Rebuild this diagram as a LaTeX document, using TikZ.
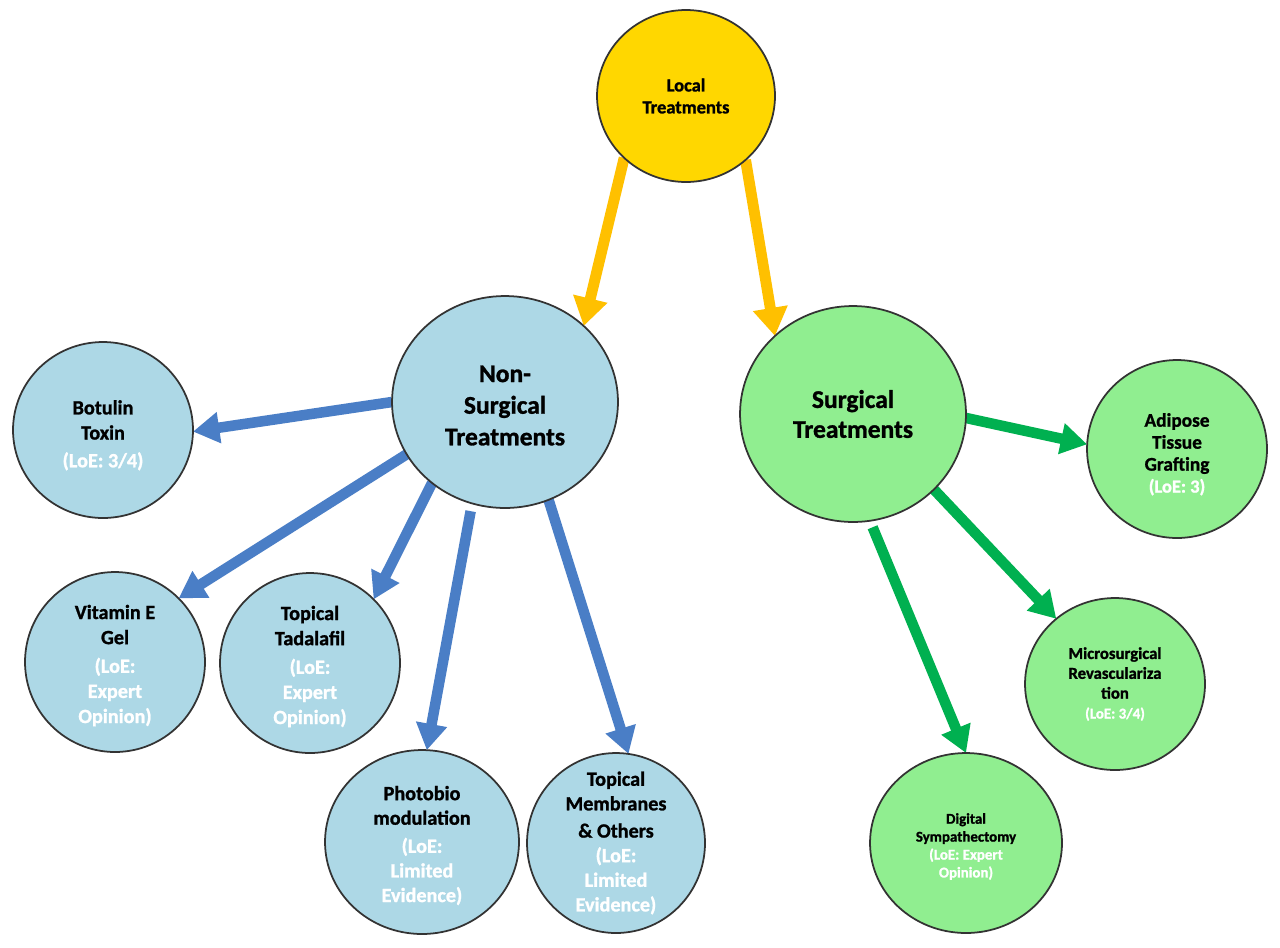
\documentclass[tikz,border=0pt]{standalone}
\usepackage{fontspec}
\setmainfont{Carlito}[BoldFeatures={FakeBold=1.2}]
\usetikzlibrary{shapes.geometric,arrows.meta}
\pgfdeclarelayer{background}
\pgfsetlayers{background,main}
\definecolor{gold}{HTML}{FFD700}
\definecolor{lblue}{HTML}{ADD8E6}
\definecolor{lgreen}{HTML}{90EE90}
\definecolor{ayel}{HTML}{FFC000}
\definecolor{ablue}{HTML}{4A7EC6}
\definecolor{agreen}{HTML}{00B050}
\definecolor{edgecol}{HTML}{333333}
\newcommand\loetxt[1]{\textcolor{white}{#1}}
\begin{document}
\begin{tikzpicture}[x=0.02cm,y=-0.02cm,
  bubble/.style={ellipse, draw=edgecol, line width=1pt, inner sep=0pt, outer sep=0pt},
  goldb/.style={bubble, fill=gold},
  blueb/.style={bubble, fill=lblue},
  greenb/.style={bubble, fill=lgreen},
  txt/.style={align=center, inner sep=0pt, text=black},
  fbig/.style={font=\bfseries\fontsize{14.5}{18}\selectfont},
  fmid/.style={font=\bfseries\fontsize{11.5}{14.3}\selectfont},
  yarrow/.style={draw=ayel, line width=6.2pt, -{Triangle[width=19pt,length=16pt]}},
  barrow/.style={draw=ablue, line width=6pt, -{Triangle[width=17pt,length=15pt]}},
  garrow/.style={draw=agreen, line width=6pt, -{Triangle[width=17pt,length=15pt]}}]

\path[use as bounding box] (0,0) rectangle (1280,947);

% circles
\node[goldb, minimum width=3.56cm, minimum height=3.44cm] (loc) at (686,96) {};
\node[blueb, minimum width=4.52cm, minimum height=4.24cm] (nst) at (505,402) {};
\node[greenb, minimum width=4.52cm, minimum height=4.32cm] (sur) at (853,414) {};
\node[blueb, minimum width=3.6cm, minimum height=3.52cm] (bot) at (103,430) {};
\node[blueb, minimum width=3.6cm, minimum height=3.6cm] (vit) at (115,662) {};
\node[blueb, minimum width=3.6cm, minimum height=3.6cm] (tad) at (310,663) {};
\node[blueb, minimum width=3.88cm, minimum height=3.68cm] (pho) at (422,842) {};
\node[blueb, minimum width=3.56cm, minimum height=3.6cm] (mem) at (616,843) {};
\node[greenb, minimum width=3.6cm, minimum height=3.56cm] (adi) at (1177,449) {};
\node[greenb, minimum width=3.6cm, minimum height=3.44cm] (mic) at (1115,684) {};
\node[greenb, minimum width=3.84cm, minimum height=3.6cm] (dig) at (966,843) {};

% texts
\node[txt, font=\bfseries\fontsize{10.5}{12.5}\selectfont] (loct) at (loc) {Local\\Treatments};
\node[txt, fbig] (nstt) at ([yshift=-2pt]nst.center) {Non-\\Surgical\\Treatments};
\node[txt, font=\bfseries\fontsize{14.5}{17}\selectfont] (surt) at (sur) {Surgical\\Treatments};
\node[txt, fmid] (bott) at ([yshift=-3pt]bot.center) {Botulin\\Toxin\\[1.5pt]\loetxt{(LoE: 3/4)}};
\node[txt, fmid] (vitt) at ([yshift=-2pt]vit.center) {Vitamin E\\Gel\\[2pt]\loetxt{(LoE:}\\\loetxt{Expert}\\\loetxt{Opinion)}};
\node[txt, fmid] (tadt) at ([yshift=-2pt]tad.center) {Topical\\Tadalafil\\[2pt]\loetxt{(LoE:}\\\loetxt{Expert}\\\loetxt{Opinion)}};
\node[txt, font=\bfseries\fontsize{11.5}{14}\selectfont] (phot) at ([yshift=-2pt]pho.center) {Photobio\\modulation\\[2pt]\loetxt{(LoE:}\\\loetxt{Limited}\\\loetxt{Evidence)}};
\node[txt, font=\bfseries\fontsize{11.5}{14}\selectfont] (memt) at (mem) {Topical\\Membranes\\[1.5pt]\&{} Others\\\loetxt{(LoE:}\\\loetxt{Limited}\\\loetxt{Evidence)}};
\node[txt, font=\bfseries\fontsize{11}{12.5}\selectfont] (adit) at ([yshift=-3pt]adi.center) {Adipose\\Tissue\\Grafting\\{\fontsize{10.5}{12}\selectfont\loetxt{(LoE: 3)}}};
\node[txt, font=\bfseries\fontsize{9.5}{11.3}\selectfont] (mict) at (mic) {Microsurgical\\Revasculariza\\tion\\{\fontsize{8.5}{11}\selectfont\loetxt{(LoE: 3/4)}}};
\node[txt, font=\bfseries\fontsize{8.5}{10.2}\selectfont] (digt) at ([yshift=-2pt]dig.center) {Digital\\Sympathectomy\\\loetxt{(LoE: Expert}\\\loetxt{Opinion)}};

% connectors
\begin{pgfonlayer}{background}
\fill[white] (0,0) rectangle (1280,947);
\draw[yarrow] (loc.225) -- (nst.44);
\draw[yarrow] (loc.313) -- (sur.135);
\draw[barrow] (nst.180) -- (bot.-1);
\draw[barrow] (nst.208) -- (vit.45);
\draw[barrow] (nst.228) -- (tad.45);
\draw[barrow, shorten <=4.5pt] (nst.252) -- (pho.87);
\draw[barrow] (nst.294) -- (mem.82);
\draw[garrow] (sur.-2) -- (adi.177);
\draw[garrow] (sur.317) -- (mic.132);
\draw[garrow, shorten <=4pt] (sur.279) -- (dig.90);
\end{pgfonlayer}
\end{tikzpicture}
\end{document}
